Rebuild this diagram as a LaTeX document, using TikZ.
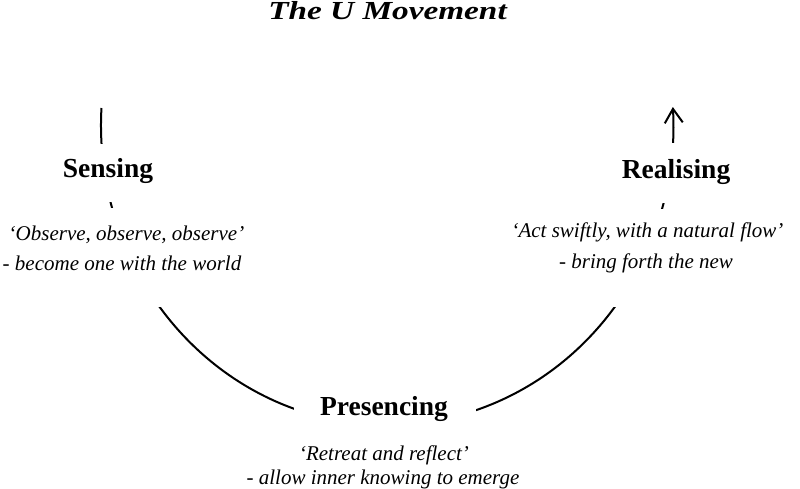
\documentclass[tikz,border=0pt]{standalone}
\usepackage{fontspec}
\usepackage{graphicx}
\setmainfont{Liberation Serif}
\usetikzlibrary{arrows.meta}
\begin{document}
\begin{tikzpicture}[x=1pt,y=-1pt,
  heading/.style={font=\fontsize{26}{30}\selectfont\bfseries\itshape, anchor=base, inner sep=0pt},
  stage/.style={font=\fontsize{27.5}{33}\selectfont\bfseries, anchor=base, inner sep=0pt},
  saying/.style={font=\fontsize{21}{25}\selectfont\itshape, anchor=base, inner sep=0pt},
  ucurve/.style={line width=2pt, -{Straight Barb[length=14pt,width=18pt]}},
  mask/.style={fill=white}]
\useasboundingbox (0,0) rectangle (800,488);
% the U curve
\coordinate (ustart) at (101.46,108);
\draw[ucurve] (ustart) arc[start angle=183.25, end angle=-3.44, x radius=286.2, y radius=300] coordinate (uend);
% gaps where the text sits over the curve
\fill[mask] (80,144) rectangle (140,202);
\fill[mask] (90,208) rectangle (180,307);
\fill[mask] (635,143) rectangle (700,203);
\fill[mask] (595,209) rectangle (690,307);
\fill[mask] (294,392) rectangle (476,445);
% texts
\node[heading] (title) at (387.5,19) {\scalebox{1.28}[1]{The U Movement}};
\node[stage] (sensing) at (108,177) {Sensing};
\node[stage] (realising) at (676,178) {Realising};
\node[stage] (presencing) at (384,415) {Presencing};
\node[saying] (sq1) at (126.5,240) {‘Observe, observe, observe’};
\node[saying] (sq2) at (122,270) {- become one with the world};
\node[saying] (rq1) at (647.5,237) {‘Act swiftly, with a natural flow’};
\node[saying] (rq2) at (646,268) {- bring forth the new};
\node[saying] (pq1) at (384,460.5) {‘Retreat and reflect’};
\node[saying] (pq2) at (383,484) {- allow inner knowing to emerge};
\end{tikzpicture}
\end{document}
